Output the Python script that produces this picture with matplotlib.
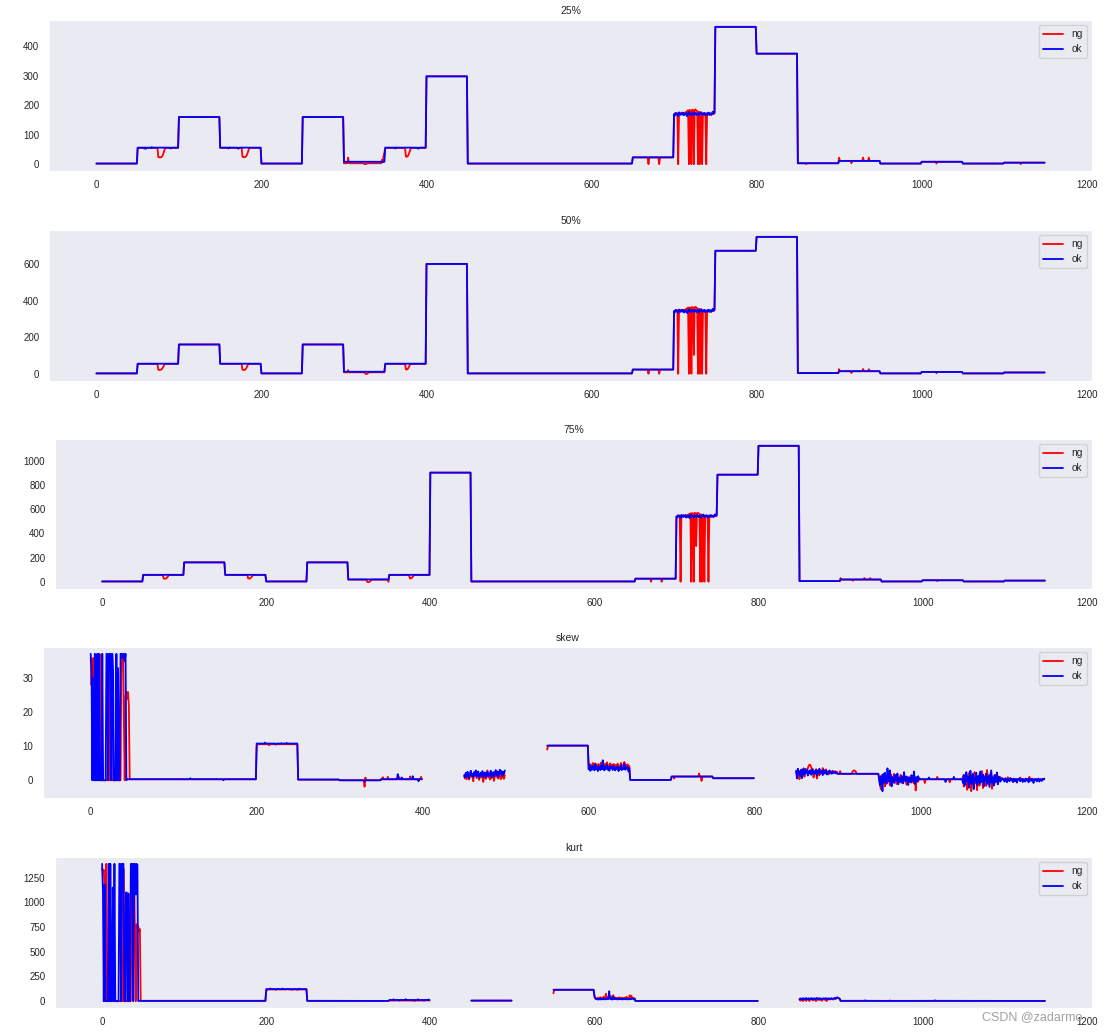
import numpy as np
import matplotlib
matplotlib.use('Agg')
import matplotlib.pyplot as plt
import seaborn as sns

nan = np.nan

# index of the samples, 23 blocks of 50
x = np.arange(1150)

# ---- 25% ----
q25_ok_lv = [2, 56, 160, 56, 2, 160, 8, 56, 298, 2, 2, 2, 2, 23, 172, 466, 375, 3, 11, 2, 8, 2, 5]
q25_ng_lv = [2, 55, 160, 55, 2, 160, 3, 55, 298, 2, 2, 2, 2, 23, 172, 466, 375, 3, 11, 2, 8, 2, 5]
q25_ok_b14 = [170, 165, 174, 168, 172, 163, 176, 170, 167, 173, 169, 175, 166, 171, 168, 174, 162, 172, 177, 169,
              171, 166, 174, 170, 168, 175, 172, 167, 173, 170, 165, 174, 171, 176, 168, 172, 169, 174, 166, 171,
              173, 168, 175, 170, 172, 167, 174, 178, 171, 176]
q25_ng_b14 = [168, 172, 170, 174, 171, 0, 169, 173, 170, 175, 172, 168, 174, 171, 176, 178, 180, 183, 0, 184,
              182, 0, 185, 183, 0, 184, 186, 182, 180, 0, 178, 0, 176, 172, 0, 170, 174, 168, 171, 0,
              169, 173, 170, 166, 172, 168, 171, 169, 173, 172]
q25_ok_fix = {58: [53, 57, 52], 66: [54, 58], 90: [53], 160: [53, 57], 172: [52], 362: [53, 57], 390: [52],
              700: q25_ok_b14}
q25_ng_fix = {75: [24, 23, 23, 23, 24, 28, 35, 44, 52], 177: [25, 24, 24, 24, 25, 29, 36, 45, 53],
              305: [22, 4], 325: [0, 1, 0], 346: [15, 6, 28, 40], 375: [26, 25, 26, 30, 38, 47, 54],
              669: [0], 682: [0], 700: q25_ng_b14, 860: [0], 900: [22], 915: [3], 929: [22], 936: [22],
              1018: [2], 1120: [0]}

# ---- 50% ----
q50_ok_lv = [2, 55, 160, 55, 2, 160, 11, 55, 600, 2, 2, 2, 2, 23, 345, 672, 748, 4, 14, 2, 10, 2, 7]
q50_ng_lv = [2, 54, 160, 54, 2, 160, 8, 54, 600, 2, 2, 2, 2, 23, 345, 672, 748, 4, 14, 2, 10, 2, 7]
q50_ok_b14 = [342, 336, 349, 340, 346, 333, 351, 344, 338, 347, 341, 350, 335, 345, 339, 348, 331, 344, 352, 340,
              346, 336, 349, 343, 339, 350, 345, 337, 348, 342, 334, 349, 344, 353, 339, 346, 341, 349, 336, 344,
              347, 339, 350, 343, 346, 338, 349, 355, 344, 352]
q50_ng_b14 = [340, 346, 342, 349, 344, 0, 341, 348, 343, 350, 346, 339, 349, 344, 352, 355, 358, 362, 0, 363,
              360, 0, 365, 362, 103, 363, 366, 361, 358, 0, 355, 0, 352, 346, 0, 343, 349, 340, 345, 0,
              341, 348, 343, 337, 346, 340, 345, 342, 348, 346]
q50_ok_fix = {700: q50_ok_b14}
q50_ng_fix = {75: [22, 21, 21, 22, 24, 30, 38, 47], 177: [22, 21, 21, 22, 26, 34, 44], 305: [20],
              326: [0, -2, 0, 3], 375: [24, 23, 25, 31, 40, 50], 669: [0], 682: [0], 700: q50_ng_b14,
              900: [25], 915: [4], 929: [26], 936: [25], 1018: [3]}

# ---- 75% ----
q75_ok_lv = [2, 57, 160, 57, 2, 160, 19, 57, 903, 2, 2, 2, 2, 25, 545, 886, 1125, 5, 18, 2, 12, 2, 9]
q75_ng_lv = [2, 55, 160, 55, 2, 160, 17, 55, 903, 2, 2, 2, 2, 25, 545, 886, 1125, 5, 18, 2, 12, 2, 9]
q75_ok_b14 = [540, 532, 550, 538, 546, 528, 553, 543, 535, 548, 539, 552, 531, 545, 537, 549, 526, 544, 555, 538,
              546, 532, 550, 542, 536, 552, 545, 534, 549, 540, 530, 550, 544, 556, 536, 546, 539, 550, 532, 544,
              548, 536, 552, 542, 546, 535, 550, 558, 544, 553]
q75_ng_b14 = [538, 546, 541, 550, 544, 0, 540, 549, 543, 552, 546, 537, 550, 544, 554, 558, 562, 566, 0, 568,
              564, 0, 570, 566, 295, 567, 570, 565, 561, 0, 558, 0, 554, 547, 0, 542, 550, 538, 545, 0,
              540, 549, 543, 535, 546, 538, 545, 541, 549, 546]
q75_ok_fix = {700: q75_ok_b14}
q75_ng_fix = {75: [26, 25, 25, 27, 33, 42, 51], 178: [27, 26, 26, 30, 38, 48], 323: [0, -4, -3, 0, 5],
              349: [0], 375: [28, 27, 29, 36, 45, 53], 669: [0], 682: [0], 700: q75_ng_b14,
              900: [30], 915: [8], 929: [30], 936: [30], 1018: [5]}

# ---- skew ----
skew_ok_lv = [0.3, 0.3, 0.3, 0.3, 10.8, 0.2, 0.0, 0.3, nan, 1.5, nan, 10.2, 3.5, 0.1, 1.1, 0.6, nan,
              2.3, 1.9, 0.3, 0.3, 0.3, 0.3]
skew_ng_lv = [0.3, 0.3, 0.3, 0.3, 10.6, 0.2, 0.0, 0.3, nan, 1.2, nan, 10.2, 4.2, 0.1, 1.1, 0.6, nan,
              2.3, 1.9, 0.3, 0.3, 0.3, 0.3]
skew_ok_b0 = [37.2, 33, 0, 30, 0, 37.2, 0, 0, 37.2, 0, 37.2, 0, 0, 0, 37.2, 0, 0, 0, 0, 37.2,
              37.2, 0, 37.2, 37.2, 37.2, 0, 37.2, 32, 0, 0, 0, 37.2, 0, 33, 0, 0, 37.2, 37.2, 36, 37.2,
              37.2, 35, 37.2, 0, 0.3, 0.3, 0.3, 0.3, 0.3, 0.3]
skew_ng_b0 = [36, 28, 35, 36, 0, 33, 0, 37, 0, 25, 0, 0, 37, 0, 0, 0, 0, 0, 0, 0,
              0, 37, 0, 0, 37, 0, 0, 0, 0, 0, 0, 0, 0, 0, 0, 0, 0, 37, 36, 37,
              17, 0, 25, 26, 24, 26, 22, 0.3, 0.3, 0.3]
skew_ok_b9 = [1.5, 0.8, 2.2, 1.0, 2.5, 1.2, 0.6, 2.0, 2.8, 1.4, 1.9, 0.9, 2.4, 1.6, 2.9, 1.1, 1.8, 2.6, 0.7, 1.5,
              2.2, 1.3, 2.7, 1.0, 1.9, 2.3, 0.8, 1.6, 2.5, 1.2, 2.0, 1.4, 2.8, 0.9, 1.7, 2.4, 1.1, 2.1, 3.0, 1.5,
              2.6, 1.0, 2.2, 3.1, 1.8, 2.7, 1.3, 2.5, 1.9, 2.9]
skew_ng_b9 = [1.2, 0.5, 1.9, 0.3, 2.1, 1.0, 0.2, 1.6, 2.4, 1.0, 1.5, -0.3, 2.0, 1.3, 2.6, 0.6, 1.4, 2.2, 0.1, 1.1,
              1.8, 0.8, 2.3, -0.5, 1.5, 2.0, 0.4, 1.2, 2.9, 0.9, 1.7, 0.2, 2.5, 0.6, 1.3, 2.1, -0.2, 1.6, 2.8, 1.0,
              2.2, 0.5, 1.8, 2.7, 0.3, 2.4, 0.8, 2.0, 0.4, 1.5]
skew_ok_b12 = [3.2, 4.5, 2.8, 3.9, 3.1, 4.2, 3.6, 2.9, 4.8, 3.3, 3.8, 2.7, 4.1, 3.5, 3.0, 4.4, 3.2, 5.9, 3.6, 2.9,
               4.0, 3.4, 4.6, 3.1, 3.7, 2.8, 4.2, 3.5, 3.9, 3.0, 4.3, 3.3, 2.9, 3.8, 3.4, 4.1, 2.7, 3.6, 3.2, 4.5,
               3.0, 3.7, 3.3, 4.9, 3.1, 3.8, 3.4, 4.0, 2.6, 3.5]
skew_ng_b12 = [3.8, 4.9, 3.5, 4.4, 3.9, 5.1, 4.2, 3.6, 5.0, 4.0, 4.6, 3.4, 4.8, 4.1, 3.7, 5.2, 3.9, 4.7, 4.3, 3.5,
               4.9, 4.0, 5.3, 3.8, 4.4, 3.6, 5.0, 4.1, 4.5, 3.3, 4.8, 3.9, 3.5, 4.6, 4.0, 4.9, 3.4, 4.3, 3.8, 5.1,
               3.6, 4.4, 4.0, 5.4, 3.7, 4.5, 4.1, 4.7, 3.5, 4.2]
skew_ok_b17 = [2.8, 0.5, 3.4, 1.9, 2.6, 1.2, 3.1, 0.6, 2.4, 3.5, 1.7, 2.9, 2.2, 3.2, 1.4, 2.7, 2.0, 3.0, 1.6, 2.5,
               3.3, 1.8, 2.6, 2.1, 3.0, 1.3, 2.8, 2.3, 3.4, 1.9, 2.2, 2.7, 1.5, 3.1, 2.4, 2.0, 2.9, 1.7, 2.5, 2.2,
               2.8, 2.0, 2.4, 1.9, 2.6, 2.1, 2.3, 2.5, 2.0, 2.2]
skew_ng_b17 = [2.5, 1.5, 3.0, 2.2, 0.3, 2.8, 1.6, 3.2, 2.0, 2.6, 1.0, 3.4, 2.4, 2.9, 3.5, 4.2, 4.6, 4.5, 4.0, 3.1,
               2.5, 0.8, 2.7, 1.9, 3.3, 0.5, 2.9, 2.2, 1.4, 3.0, 2.6, 2.1, 3.6, 1.8, 2.4, 2.8, 3.2, 2.0, 2.5, 1.7,
               2.9, 2.3, 2.6, 2.1, 2.8, 2.4, 2.2, 2.7, 2.3, 2.5]
skew_ok_b19 = [0.2, -1.5, 1.2, 0.5, -3.2, 1.8, -0.6, 2.2, 0.4, -1.0, 3.5, 0.8, -0.4, 2.9, 0.1, -1.8, 1.0, 0.3, -0.8, 1.6,
               0.6, -0.2, 2.0, -1.2, 0.7, 0.2, -0.5, 1.3, 0.4, -0.9, 2.4, 0.0, -0.3, 1.1, 0.5, -1.4, 0.8, 0.2, -0.6, 1.5,
               0.3, -0.2, 2.6, -1.1, 0.4, 0.9, -0.4, 1.2, 0.3, 0.5]
skew_ng_b19 = [0.8, -1.2, -2.6, 1.5, 0.3, -0.9, 2.0, -1.8, 0.6, 1.2, -0.4, 2.5, 0.1, -1.5, 1.7, 0.4, -0.7, 0.9, 1.9, -0.3,
               0.5, -1.1, 1.4, 0.2, -0.6, 0.8, 1.6, -0.8, 0.3, 0.7, -0.2, 1.1, 0.4, -1.3, 0.6, 0.9, -0.5, 0.2, 1.3, -0.7,
               0.5, 0.1, -0.9, 1.0, -3.0, 0.8, 0.3, -0.4, 0.6, 0.2]
skew_ok_b21 = [0.4, -0.8, 1.6, -1.5, 0.9, 2.4, -0.4, 1.1, -2.2, 0.6, 2.8, -1.0, 0.3, 1.9, -2.6, 0.8, -0.3, 2.2, -1.4, 0.5,
               1.4, -0.9, 2.6, -0.6, 0.2, 1.7, -1.8, 0.9, -0.2, 2.0, -1.1, 0.6, 1.3, -2.0, 0.4, 2.9, -0.7, 0.8, -1.6, 1.5,
               0.1, -0.5, 2.3, -1.2, 0.7, 1.0, -0.4, 0.3, 0.6, 0.2]
skew_ng_b21 = [0.1, 1.2, -1.9, 0.7, -0.5, 1.8, -2.8, 0.4, 2.1, -1.3, 0.9, -3.2, 1.5, 0.2, -2.1, 2.4, -0.8, 0.6, -2.9, 1.1,
               0.3, -1.6, 1.9, -0.4, 2.7, -2.3, 0.8, -0.9, 1.4, -1.7, 3.0, 0.5, -1.2, 1.7, -0.6, 2.2, -2.5, 0.9, 0.2, -1.0,
               1.6, -0.3, 0.7, 1.2, -0.5, 0.4, 0.9, 0.1, 0.6, 0.3]
skew_ok_b22 = [0.3, -0.4, 0.6, 0.1, -0.6, 0.4, 0.2, -0.3, 0.7, 0.0, 0.3, -0.5, 0.5, 0.1, -0.2, 0.4, -0.7, 0.3, 0.2, 0.6,
               -0.3, 0.1, 0.4, -0.5, 0.3, 0.2, -0.4, 0.5, 0.0, 0.3, -0.6, 0.4, 0.1, -0.2, 0.5, 0.2, -0.8, 0.3, 0.1, 0.4,
               -0.3, 0.2, 0.5, -0.4, 0.1, 0.3, -0.2, 0.4, 0.2, 0.5]
skew_ok_fix = {0: skew_ok_b0, 120: [0.6], 160: [0.0], 210: [11.1], 223: [10.5], 236: [11.0], 330: [-0.3],
               370: [1.8], 375: [0.8], 388: [1.2], 395: [-0.3], 450: skew_ok_b9, 600: skew_ok_b12,
               850: skew_ok_b17, 950: skew_ok_b19, 1010: [0.8], 1030: [-0.5], 1040: [1.0],
               1050: skew_ok_b21, 1100: skew_ok_b22}
skew_ng_fix = {0: skew_ng_b0, 200: [10.0], 215: [10.3], 230: [10.9], 330: [-1.9, 0.8], 352: [0.9], 358: [1.0],
               372: [0.9], 385: [1.1], 398: [1.0], 450: skew_ng_b9, 550: [9.0, 10.0], 600: skew_ng_b12,
               703: [0.5], 733: [2.0], 736: [-0.2], 850: skew_ng_b17, 903: [2.7], 918: [2.6, 2.8, 2.9, 2.7, 2.5],
               950: skew_ng_b19, 1005: [-0.8], 1020: [1.0], 1035: [-0.6], 1050: skew_ng_b21,
               1105: [0.9], 1112: [-0.5], 1120: [0.8], 1131: [1.0], 1140: [-0.3]}

# ---- kurt ----
kurt_ok_lv = [3, 3, 3, 3, 122, 3, 2, 12, nan, 6, nan, 115, 22, 2, 2, 2, nan, 25, 3, 2, 3, 2, 2]
kurt_ng_lv = [3, 3, 3, 3, 118, 3, 2, 6, nan, 4, nan, 115, 30, 2, 2, 2, nan, 15, 3, 2, 3, 2, 2]
kurt_ok_b0 = [1390, 1100, 0, 1180, 0, 0, 0, 0, 1390, 0, 1390, 0, 0, 1150, 0, 1390, 0, 0, 0, 0,
              0, 1390, 1390, 0, 1390, 1390, 1390, 0, 0, 1100, 1100, 0, 1090, 0, 0, 1390, 1390, 1390, 0, 1390,
              1390, 1080, 1390, 1380, 0, 3, 3, 3, 3, 3]
kurt_ng_b0 = [1340, 1300, 1330, 1200, 0, 1390, 0, 0, 0, 0, 0, 0, 0, 800, 0, 0, 0, 0, 0, 0,
              0, 0, 0, 0, 0, 0, 1340, 0, 0, 0, 0, 0, 0, 0, 0, 0, 1340, 1370, 1000, 1390,
              600, 0, 780, 720, 760, 700, 730, 0, 3, 3]
kurt_ok_b12 = [60, 30, 22, 18, 25, 15, 20, 28, 16, 24, 19, 30, 17, 22, 26, 18, 35, 21, 100, 25,
               19, 28, 16, 45, 22, 20, 30, 18, 24, 17, 26, 21, 19, 25, 16, 23, 20, 28, 18, 22,
               25, 17, 21, 19, 27, 20, 30, 24, 18, 22]
kurt_ng_b12 = [40, 25, 30, 20, 35, 28, 22, 40, 26, 33, 24, 45, 30, 27, 75, 32, 26, 38, 29, 24,
               50, 30, 27, 60, 31, 25, 36, 28, 33, 26, 40, 29, 24, 35, 27, 31, 26, 34, 29, 45,
               28, 32, 25, 60, 30, 55, 27, 33, 26, 30]
kurt_ok_b17 = [20, 28, 15, 25, 30, 18, 26, 22, 32, 17, 24, 29, 19, 27, 23, 31, 16, 25, 28, 20,
               26, 33, 18, 24, 30, 21, 27, 19, 25, 29, 22, 26, 31, 18, 24, 28, 20, 27, 23, 30,
               25, 21, 28, 32, 26, 35, 38, 34, 30, 25]
kurt_ng_b17 = [15, 5, 22, 18, 0, 25, 12, 20, 2, 24, 16, 21, 0, 19, 26, 14, 22, 8, 25, 18,
               0, 23, 15, 27, 10, 20, 24, 3, 22, 17, 25, 12, 21, 0, 19, 26, 15, 22, 18, 24,
               20, 16, 23, 28, 21, 30, 33, 29, 25, 22]
kurt_ok_fix = {0: kurt_ok_b0, 205: [128], 212: [116], 220: [127], 231: [117], 240: [126],
               355: [18], 362: [6], 370: [20], 378: [8], 385: [19], 392: [7], 398: [16],
               600: kurt_ok_b12, 850: kurt_ok_b17, 930: [8], 960: [6], 1015: [8]}
kurt_ng_fix = {0: kurt_ng_b0, 200: [100, 110], 214: [126], 226: [124], 238: [112],
               360: [12], 381: [0], 396: [14], 550: [80], 600: kurt_ng_b12, 850: kurt_ng_b17}


def build(levels, fix):
    y = np.repeat(np.array(levels, dtype=float), 50)
    for start, vals in fix.items():
        y[start:start + len(vals)] = vals
    return y


panels = [
    ('25%', build(q25_ok_lv, q25_ok_fix), build(q25_ng_lv, q25_ng_fix)),
    ('50%', build(q50_ok_lv, q50_ok_fix), build(q50_ng_lv, q50_ng_fix)),
    ('75%', build(q75_ok_lv, q75_ok_fix), build(q75_ng_lv, q75_ng_fix)),
    ('skew', build(skew_ok_lv, skew_ok_fix), build(skew_ng_lv, skew_ng_fix)),
    ('kurt', build(kurt_ok_lv, kurt_ok_fix), build(kurt_ng_lv, kurt_ng_fix)),
]

sns.set_style('dark')
plt.rcParams['font.family'] = ['Liberation Sans', 'DejaVu Sans']
plt.rcParams['font.size'] = 7
plt.rcParams['xtick.major.size'] = 0
plt.rcParams['ytick.major.size'] = 0
plt.rcParams['xtick.major.pad'] = 6.5
plt.rcParams['ytick.major.pad'] = 7

W, H = 1106, 1034
# left, top, right, bottom of each axes in pixels
boxes = [(49, 20, 1092, 171), (49, 230, 1092, 381), (55, 439, 1092, 589),
         (43, 647, 1092, 798), (55, 857, 1092, 1008)]

fig = plt.figure(figsize=(W / 100, H / 100), dpi=100)
for (title, ok, ng), (l, t, r, b) in zip(panels, boxes):
    ax = fig.add_axes([l / W, 1 - b / H, (r - l) / W, (b - t) / H])
    ax.plot(x, ng, color='red', lw=1.3, label='ng')
    ax.plot(x, ok, color='blue', lw=1.3, label='ok')
    ax.set_title(title, fontsize=7.5, pad=4.5)
    ax.legend(loc='upper right', fontsize=7.3)

fig.text(0.888, 0.016, 'CSDN @zadarmo', fontsize=9, color='#a0a0a0', va='center')
fig.savefig('out.png', dpi=100)
